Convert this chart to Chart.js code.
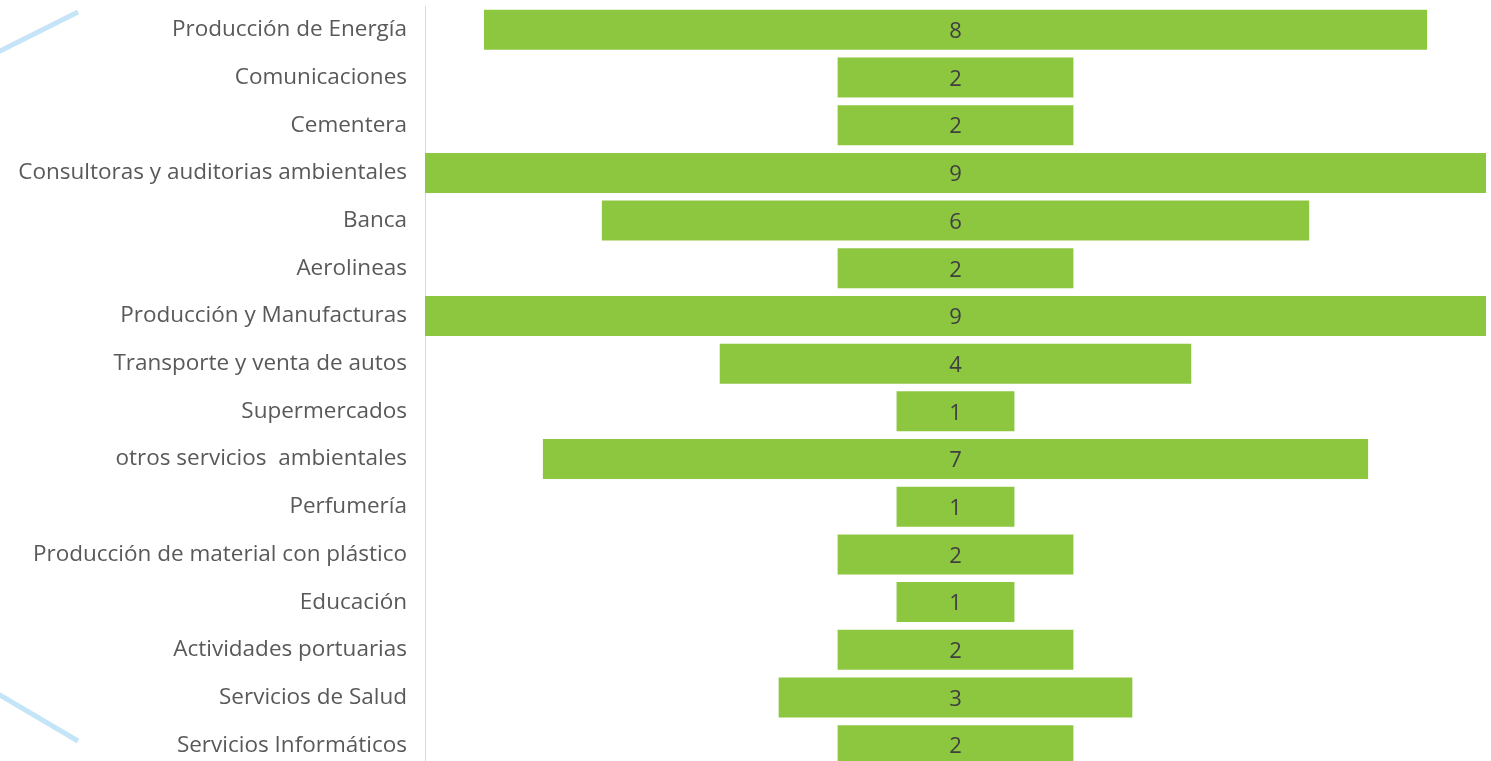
<!DOCTYPE html>
<html><head><meta charset="utf-8">
<script src="https://cdn.jsdelivr.net/npm/chart.js@4/dist/chart.umd.min.js"></script>
<style>html,body{margin:0;padding:0;background:#fff;overflow:hidden}canvas{position:absolute;left:0;top:0}</style>
</head><body><canvas id="c" width="1491" height="769" style="width:1491px;height:769px"></canvas>
<script>
const categories = ["Producción de Energía","Comunicaciones","Cementera","Consultoras y auditorias ambientales","Banca","Aerolineas","Producción y Manufacturas","Transporte y venta de autos","Supermercados","otros servicios  ambientales","Perfumería","Producción de material con plástico","Educación","Actividades portuarias","Servicios de Salud","Servicios Informáticos"];
const values = [8,2,2,9,6,2,9,4,1,7,1,2,1,2,3,2];
const maxValue = 9;

const decor = {
  id:'decor',
  beforeDraw(chart){
    const ctx = chart.ctx;
    ctx.save();
    ctx.strokeStyle = '#c4e4f7';
    ctx.lineWidth = 5;
    ctx.beginPath(); ctx.moveTo(-2, 52); ctx.lineTo(78, 12); ctx.stroke();
    ctx.beginPath(); ctx.moveTo(-2, 694); ctx.lineTo(78, 741); ctx.stroke();
    ctx.restore();
  }
};
const valueLabels = {
  id:'valueLabels',
  afterDatasetsDraw(chart){
    const ctx = chart.ctx;
    const meta = chart.getDatasetMeta(0);
    ctx.save();
    ctx.fillStyle = '#404040';
    ctx.font = '22px "Open Sans"';
    ctx.textAlign = 'center';
    ctx.textBaseline = 'middle';
    meta.data.forEach((bar, i) => {
      ctx.fillText(String(values[i]), chart.scales.x.getPixelForValue(0), bar.y + 2);
    });
    ctx.restore();
  }
};

new Chart(document.getElementById('c'), {
  type: 'bar',
  data: {
    labels: categories,
    datasets: [{
      data: values.map(v => [-v/2, v/2]),
      backgroundColor: '#8dc63f',
      borderWidth: 0,
      barPercentage: 0.84,
      categoryPercentage: 1
    }]
  },
  plugins: [decor, valueLabels],
  options: {
    indexAxis: 'y',
    responsive: false,
    animation: false,
    layout: { padding: { top: 6, right: 5, bottom: 0, left: 0 } },
    plugins: { legend: { display: false }, tooltip: { enabled: false } },
    scales: {
      x: { display: false, min: -maxValue/2, max: maxValue/2 },
      y: {
        afterFit(s){ s.width = 425; s.paddingTop = 0; s.paddingBottom = 0; },
        grid: { display: false, drawTicks: false },
        border: { display: true, color: '#d9d9d9', width: 1 },
        ticks: { color: '#595959', font: { family: '"Open Sans"', size: 22.5 }, padding: 18, autoSkip: false }
      }
    }
  }
});
</script></body></html>
